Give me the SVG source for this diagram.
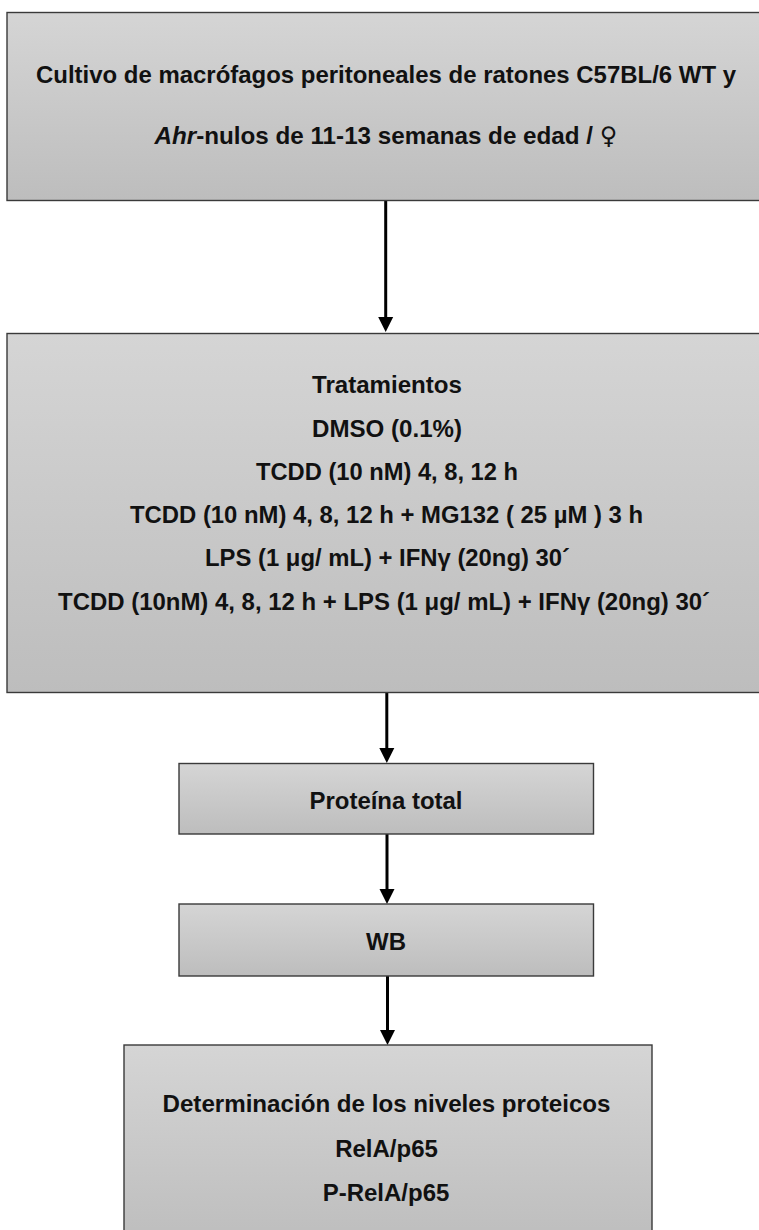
<svg xmlns="http://www.w3.org/2000/svg" width="759" height="1230" viewBox="0 0 759 1230">
<defs>
<linearGradient id="g" x1="0" y1="0" x2="0" y2="1">
<stop offset="0" stop-color="#d5d5d5"/>
<stop offset="1" stop-color="#bdbdbd"/>
</linearGradient>
<marker id="ah" markerUnits="userSpaceOnUse" markerWidth="16" markerHeight="16" viewBox="0 0 16 16" refX="7" refY="8" orient="auto">
<path d="M0,0.5 L15,8 L0,15.5 Z" fill="#000"/>
</marker>
</defs>
<style>
.box{fill:url(#g);stroke:#3a3a3a;stroke-width:1.4}
.t{font-family:"Liberation Sans",Arial,sans-serif;font-weight:bold;font-size:24px;fill:#111;text-anchor:middle}
.c{stroke:#000;stroke-width:3;fill:none}
</style>
<rect width="759" height="1230" fill="#fff"/>
<g id="connectors">
<line class="c" x1="385.7" y1="201" x2="385.7" y2="324" marker-end="url(#ah)"/>
<line class="c" x1="386.8" y1="693" x2="386.8" y2="755" marker-end="url(#ah)"/>
<line class="c" x1="387" y1="834" x2="387" y2="896" marker-end="url(#ah)"/>
<line class="c" x1="387.5" y1="976" x2="387.5" y2="1037" marker-end="url(#ah)"/>
</g>
<g id="node-cultivo">
<rect class="box" x="7" y="12.5" width="760" height="188"/>
<text class="t" x="386" y="83" textLength="700" lengthAdjust="spacingAndGlyphs">Cultivo de macrófagos peritoneales de ratones C57BL/6 WT y</text>
<text class="t" x="386" y="144" textLength="463" lengthAdjust="spacingAndGlyphs"><tspan font-style="italic">Ahr</tspan>-nulos de 11-13 semanas de edad / <tspan font-weight="normal" font-family="'DejaVu Sans',sans-serif" font-size="24">♀</tspan></text>
</g>
<g id="node-tratamientos">
<rect class="box" x="7" y="333.5" width="760" height="359"/>
<text class="t" x="387" y="393" textLength="150" lengthAdjust="spacingAndGlyphs">Tratamientos</text>
<text class="t" x="387" y="437" textLength="150" lengthAdjust="spacingAndGlyphs">DMSO (0.1%)</text>
<text class="t" x="387" y="480" textLength="262" lengthAdjust="spacingAndGlyphs">TCDD (10 nM) 4, 8, 12 h</text>
<text class="t" x="386.5" y="523" textLength="513" lengthAdjust="spacingAndGlyphs">TCDD (10 nM) 4, 8, 12 h + MG132 ( 25 µM ) 3 h</text>
<text class="t" x="387.5" y="566" textLength="365" lengthAdjust="spacingAndGlyphs">LPS (1 μg/ mL) + IFNγ (20ng) 30´</text>
<text class="t" x="384" y="610" textLength="652" lengthAdjust="spacingAndGlyphs">TCDD (10nM)  4, 8, 12 h + LPS (1 μg/ mL) + IFNγ (20ng) 30´</text>
</g>
<g id="node-proteina">
<rect class="box" x="179" y="763.5" width="414.5" height="70.5"/>
<text class="t" x="386" y="808.5" textLength="153" lengthAdjust="spacingAndGlyphs">Proteína total</text>
</g>
<g id="node-wb">
<rect class="box" x="179" y="904" width="414.5" height="72"/>
<text class="t" x="386" y="950">WB</text>
</g>
<g id="node-determinacion">
<rect class="box" x="124" y="1045" width="528" height="200"/>
<text class="t" x="386.5" y="1112" textLength="448" lengthAdjust="spacingAndGlyphs">Determinación de los niveles proteicos</text>
<text class="t" x="386.5" y="1157">RelA/p65</text>
<text class="t" x="386" y="1201">P-RelA/p65</text>
</g>
</svg>
